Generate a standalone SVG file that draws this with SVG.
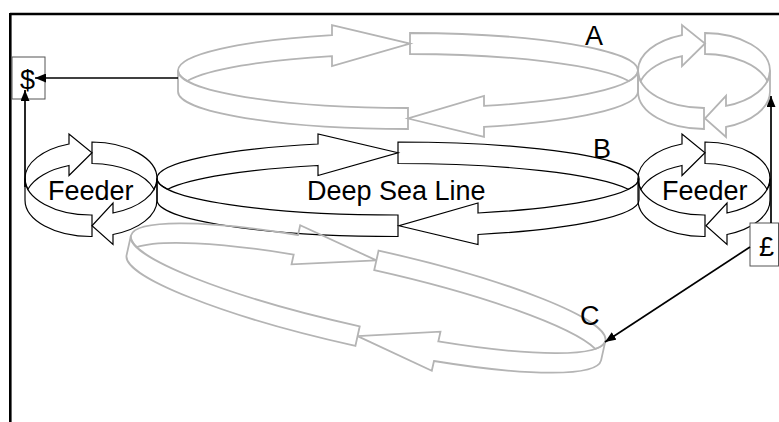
<svg xmlns="http://www.w3.org/2000/svg" width="779" height="422" viewBox="0 0 779 422">
<style>
.grey path{fill:none;stroke:#b4b4b4;stroke-width:1.8;stroke-linejoin:miter}
.blk path{fill:none;stroke:#000;stroke-width:1.2;stroke-linejoin:miter}
.lbl{font-family:"Liberation Sans",Arial,sans-serif;font-size:27px;fill:#000}
.box{fill:#fff;stroke:#555;stroke-width:1}
.conn line{stroke:#000;stroke-width:1.7;marker-end:url(#ah)}
.frame{stroke:#000;stroke-width:2.6;fill:none}
</style>
<defs>
<marker id="ah" markerUnits="userSpaceOnUse" markerWidth="11" markerHeight="9" refX="11" refY="4.5" orient="auto">
<path d="M0,0 L11,4.5 L0,9 Z" fill="#000"/>
</marker>
</defs>
<rect width="779" height="422" fill="#fff"/>
<path class="frame" d="M10,14 H779 M10.3,13 V422"/>

<g id="ring-A" class="grey">
<path d="M332,35.1 A230,37.5 0 0 0 178,70.5 A230,37.5 0 0 0 187.2,81 A230,37.5 0 0 1 332,56.1 L332,66.1 L410,43.5 L332,25.1 Z"/>
<path d="M410,33 A230,37.5 0 0 1 638,70.5 A230,37.5 0 0 1 628.8,81 A230,37.5 0 0 0 410,54 Z"/>
<path d="M178,70.5 A230,37.5 0 0 0 408,108 L408,129 A230,37.5 0 0 1 178,91.5 Z"/>
<path d="M484,105.9 A230,37.5 0 0 0 638,70.5 L638,91.5 A230,37.5 0 0 1 484,126.9 L484,136.9 L408,118.5 L484,95.9 Z"/>
</g>
<g id="ring-A-feeder" class="grey">
<path d="M682,35.1 A66,37.5 0 0 0 638,70.5 A66,37.5 0 0 0 640.6,81 A66,37.5 0 0 1 682,56.1 L682,66.1 L705,43.5 L682,25.1 Z"/>
<path d="M705,33 A66,37.5 0 0 1 770,70.5 A66,37.5 0 0 1 767.4,81 A66,37.5 0 0 0 705,54 Z"/>
<path d="M638,70.5 A66,37.5 0 0 0 704,108 L704,129 A66,37.5 0 0 1 638,91.5 Z"/>
<path d="M726,105.9 A66,37.5 0 0 0 770,70.5 L770,91.5 A66,37.5 0 0 1 726,126.9 L726,136.9 L705,118.5 L726,95.9 Z"/>
</g>

<g id="ring-B" class="blk">
<path d="M318,144 A241,36.5 0 0 0 157,178.5 A241,36.5 0 0 0 167.7,189.25 A241,36.5 0 0 1 318,165.5 L318,175.5 L398,152.75 L318,134 Z"/>
<path d="M398,142 A241,36.5 0 0 1 639,178.5 A241,36.5 0 0 1 628.3,189.25 A241,36.5 0 0 0 398,163.5 Z"/>
<path d="M157,178.5 A241,36.5 0 0 0 398,215 L398,236.5 A241,36.5 0 0 1 157,200 Z"/>
<path d="M478,213 A241,36.5 0 0 0 639,178.5 L639,200 A241,36.5 0 0 1 478,234.5 L478,244.5 L399,225.75 L478,203 Z"/>
</g>
<g id="feeder-left" class="blk">
<path d="M69,144 A66,36.5 0 0 0 25,178.5 A66,36.5 0 0 0 27.9,189.25 A66,36.5 0 0 1 69,165.5 L69,175.5 L92,152.75 L69,134 Z"/>
<path d="M92,142 A66,36.5 0 0 1 157,178.5 A66,36.5 0 0 1 154.1,189.25 A66,36.5 0 0 0 92,163.5 Z"/>
<path d="M25,178.5 A66,36.5 0 0 0 92,215 L92,236.5 A66,36.5 0 0 1 25,200 Z"/>
<path d="M113,213 A66,36.5 0 0 0 157,178.5 L157,200 A66,36.5 0 0 1 113,234.5 L113,244.5 L92,225.75 L113,203 Z"/>
</g>
<g id="feeder-right" class="blk">
<path d="M682,144 A66,36.5 0 0 0 638,178.5 A66,36.5 0 0 0 640.9,189.25 A66,36.5 0 0 1 682,165.5 L682,175.5 L705,152.75 L682,134 Z"/>
<path d="M705,142 A66,36.5 0 0 1 770,178.5 A66,36.5 0 0 1 767.1,189.25 A66,36.5 0 0 0 705,163.5 Z"/>
<path d="M638,178.5 A66,36.5 0 0 0 705,215 L705,236.5 A66,36.5 0 0 1 638,200 Z"/>
<path d="M727,213 A66,36.5 0 0 0 770,178.5 L770,200 A66,36.5 0 0 1 727,234.5 L727,244.5 L706,225.75 L727,203 Z"/>
</g>

<g id="ring-C" class="grey" transform="translate(366,298) rotate(12.5)">
<path d="M-80,-46.8 A243,39 0 0 0 -243,-10 A243,39 0 0 0 -234.9,0 A243,39 0 0 1 -80,-26.8 L-80,-16.8 L2,-39 L-80,-56.8 Z"/>
<path d="M2,-49 A243,39 0 0 1 243,-10 A243,39 0 0 1 234.9,0 A243,39 0 0 0 2,-29 Z"/>
<path d="M-243,-10 A243,39 0 0 0 0,29 L0,49 A243,39 0 0 1 -243,10 Z"/>
<path d="M80,26.8 A243,39 0 0 0 243,-10 L243,10 A243,39 0 0 1 80,46.8 L80,56.8 L0,39 L80,16.8 Z"/>
</g>

<g id="box-dollar">
<rect class="box" x="12" y="57" width="33" height="42"/>
<text class="lbl" x="27.5" y="89" text-anchor="middle">$</text>
</g>
<g id="box-pound">
<rect class="box" x="750" y="223" width="28.5" height="43"/>
<text class="lbl" x="766.5" y="256" text-anchor="middle">£</text>
</g>

<g id="labels">
<text class="lbl" x="585" y="45">A</text>
<text class="lbl" x="593" y="158">B</text>
<text class="lbl" x="580" y="325">C</text>
<text class="lbl" x="48" y="200">Feeder</text>
<text class="lbl" x="307" y="200">Deep Sea Line</text>
<text class="lbl" x="662" y="200">Feeder</text>
</g>

<g id="connectors" class="conn">
<line x1="178" y1="78" x2="35" y2="78"/>
<line x1="25" y1="187" x2="25" y2="90"/>
<line x1="771" y1="223" x2="771" y2="96"/>
<line x1="750" y1="247" x2="605" y2="342"/>
</g>
</svg>
